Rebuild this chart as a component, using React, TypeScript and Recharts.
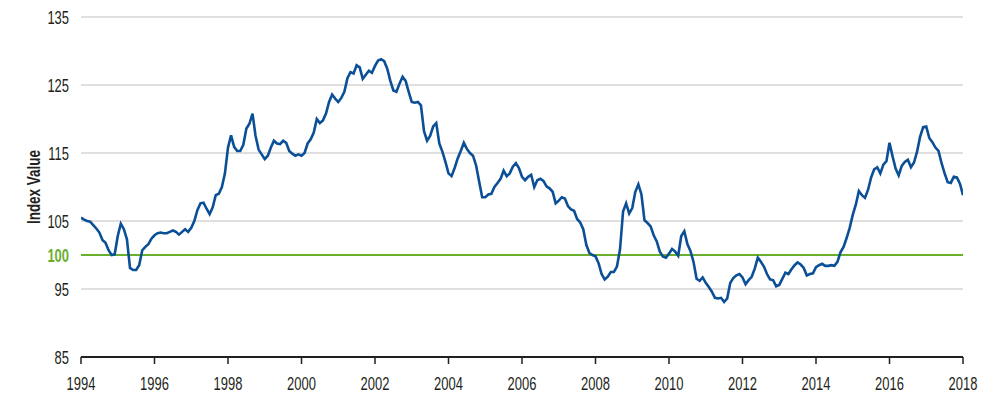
// Index value line chart, monthly 1994–2018, with the 100 baseline in green.
import { LineChart, Line, XAxis, YAxis, ReferenceLine } from "recharts";

// The source uses a condensed face; no condensed font is installed, so the
// labels are Liberation Sans squeezed horizontally.
const FONT = '"Liberation Sans", Arial, sans-serif';
const SQUEEZE = 0.72;
const BLUE = "#0b4f96";
const GREEN = "#6aae2e";
const GRID = "#d4d4d4";
const INK = "#231f20";

// Monthly index values, Jan..Dec of each year.
const v1994 = [105.5, 105.2, 105.0, 104.9, 104.4, 103.9, 103.3, 102.2, 101.8, 100.7, 100.0, 100.1];
const v1995 = [102.8, 104.6, 103.8, 102.3, 98.1, 97.8, 97.8, 98.5, 100.7, 101.2, 101.6, 102.4];
const v1996 = [102.9, 103.2, 103.3, 103.2, 103.2, 103.4, 103.6, 103.4, 103.0, 103.4, 103.8, 103.4];
const v1997 = [104.0, 105.0, 106.6, 107.6, 107.7, 106.8, 106.0, 107.0, 108.8, 109.0, 110.0, 112.0];
const v1998 = [115.8, 117.6, 115.9, 115.3, 115.3, 116.2, 118.6, 119.3, 120.8, 117.5, 115.5, 114.8];
const v1999 = [114.1, 114.6, 115.8, 116.8, 116.4, 116.3, 116.8, 116.5, 115.3, 114.9, 114.6, 114.8];
const v2000 = [114.6, 115.0, 116.4, 117.0, 118.0, 120.0, 119.4, 119.8, 120.8, 122.5, 123.6, 123.0];
const v2001 = [122.5, 123.1, 124.0, 126.0, 126.9, 126.7, 127.9, 127.6, 125.9, 126.5, 127.1, 126.8];
const v2002 = [127.8, 128.6, 128.8, 128.5, 127.4, 125.6, 124.2, 124.0, 125.2, 126.2, 125.6, 124.0];
const v2003 = [122.5, 122.4, 122.5, 122.0, 118.2, 116.8, 117.5, 118.9, 119.4, 116.4, 115.2, 113.7];
const v2004 = [112.0, 111.6, 112.8, 114.2, 115.3, 116.5, 115.6, 115.0, 114.6, 113.2, 110.8, 108.5];
const v2005 = [108.5, 108.9, 109.0, 110.0, 110.6, 111.2, 112.4, 111.6, 112.0, 113.0, 113.5, 112.8];
const v2006 = [111.5, 111.0, 111.5, 111.8, 110.0, 111.0, 111.2, 110.9, 110.1, 109.8, 109.3, 107.6];
const v2007 = [108.0, 108.5, 108.3, 107.2, 106.7, 106.5, 105.3, 104.8, 103.8, 101.5, 100.3, 100.0];
const v2008 = [99.8, 98.8, 97.2, 96.4, 96.8, 97.5, 97.5, 98.3, 100.8, 106.4, 107.6, 106.1];
const v2009 = [106.9, 109.3, 110.4, 108.9, 105.1, 104.7, 104.2, 102.9, 102.0, 100.5, 99.8, 99.6];
const v2010 = [100.2, 100.9, 100.5, 99.9, 102.8, 103.5, 101.6, 100.6, 99.0, 96.5, 96.2, 96.7];
const v2011 = [95.9, 95.3, 94.6, 93.7, 93.6, 93.7, 93.1, 93.6, 95.9, 96.6, 97.0, 97.2];
const v2012 = [96.7, 95.7, 96.3, 96.8, 98.0, 99.6, 99.0, 98.3, 97.2, 96.4, 96.3, 95.4];
const v2013 = [95.6, 96.5, 97.4, 97.2, 97.9, 98.5, 98.9, 98.6, 98.1, 97.0, 97.2, 97.3];
const v2014 = [98.2, 98.5, 98.7, 98.4, 98.4, 98.5, 98.4, 99.0, 100.4, 101.2, 102.5, 104.0];
const v2015 = [105.9, 107.4, 109.4, 108.8, 108.4, 109.6, 111.4, 112.6, 112.9, 112.0, 113.3, 113.8];
const v2016 = [116.5, 114.5, 112.7, 111.7, 113.1, 113.7, 114.0, 112.9, 113.6, 115.2, 117.4, 118.8];
const v2017 = [118.9, 117.2, 116.6, 115.8, 115.3, 113.5, 112.0, 110.7, 110.6, 111.5, 111.4, 110.5];
const v2018 = [108.8];

const yearly = [
  v1994, v1995, v1996, v1997, v1998, v1999, v2000, v2001, v2002, v2003, v2004, v2005,
  v2006, v2007, v2008, v2009, v2010, v2011, v2012, v2013, v2014, v2015, v2016, v2017, v2018,
];

const yTicks = [85, 95, 100, 105, 115, 125, 135];
const gridValues = [95, 105, 115, 125, 135];
const xTicks = [1994, 1996, 1998, 2000, 2002, 2004, 2006, 2008, 2010, 2012, 2014, 2016, 2018];

const data = yearly.flatMap((vals, yi) =>
  vals.map((value, m) => ({ t: 1994 + yi + m / 12, value }))
);

function YTick(props: any) {
  const { x, y, payload } = props;
  const base = payload.value === 100;
  return (
    <text
      transform={`translate(${x} ${y + 6.5}) scale(${SQUEEZE} 1)`}
      textAnchor="end"
      fontFamily={FONT}
      fontSize={18}
      fontWeight={base ? 700 : 400}
      fill={base ? GREEN : INK}
    >
      {payload.value}
    </text>
  );
}

function XTick(props: any) {
  const { x, y, payload } = props;
  return (
    <text
      transform={`translate(${x} ${y + 16}) scale(${SQUEEZE} 1)`}
      textAnchor="middle"
      fontFamily={FONT}
      fontSize={18}
      fill={INK}
    >
      {payload.value}
    </text>
  );
}

function YLabel(props: any) {
  const { viewBox } = props;
  const cx = 34;
  const cy = viewBox.y + viewBox.height / 2;
  return (
    <text
      transform={`translate(${cx} ${cy}) rotate(-90) scale(0.75 1)`}
      textAnchor="middle"
      dominantBaseline="central"
      fontFamily={FONT}
      fontSize={18}
      fontWeight={700}
      fill={INK}
    >
      Index Value
    </text>
  );
}

export default function App() {
  return (
    <div style={{ position: "absolute", left: 0, top: 0, width: 1000, height: 399, background: "#fff" }}>
      <LineChart width={1000} height={399} data={data} margin={{ top: 17, right: 37, bottom: 0, left: 0 }}>
        <XAxis
          dataKey="t"
          type="number"
          domain={[1994, 2018]}
          ticks={xTicks}
          allowDataOverflow
          axisLine={{ stroke: INK, strokeWidth: 2 }}
          tickLine={{ stroke: INK, strokeWidth: 1.5 }}
          tickSize={7}
          tickMargin={10}
          height={42}
          tick={<XTick />}
        />
        <YAxis
          type="number"
          domain={[85, 135]}
          ticks={yTicks}
          allowDataOverflow
          axisLine={false}
          tickLine={false}
          tickSize={0}
          tickMargin={12}
          width={81}
          tick={<YTick />}
          label={<YLabel />}
        />
        {gridValues.map((v) => (
          <ReferenceLine key={v} y={v} stroke={GRID} strokeWidth={1.5} />
        ))}
        <ReferenceLine y={100} stroke={GREEN} strokeWidth={2} />
        <Line
          type="linear"
          dataKey="value"
          stroke={BLUE}
          strokeWidth={2.6}
          dot={false}
          isAnimationActive={false}
        />
      </LineChart>
    </div>
  );
}
